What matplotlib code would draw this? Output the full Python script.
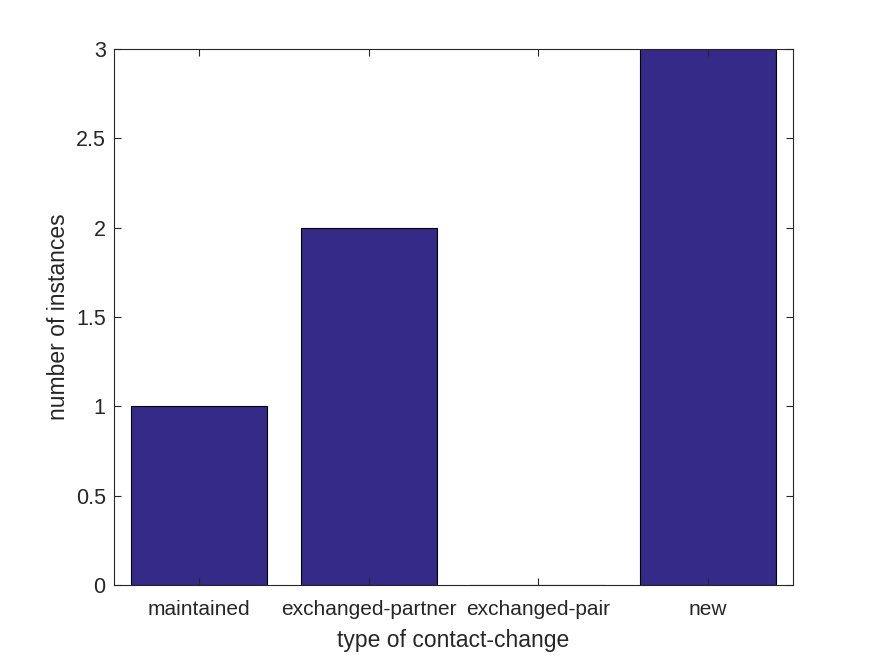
import matplotlib
matplotlib.use("Agg")
import matplotlib.pyplot as plt

categories = ["maintained", "exchanged-partner", "exchanged-pair", "new"]
values = [1, 2, 0, 3]
yticks = [0, 0.5, 1, 1.5, 2, 2.5, 3]
yticklabels = ["0", "0.5", "1", "1.5", "2", "2.5", "3"]

plt.rcParams['font.family'] = ['Liberation Sans', 'DejaVu Sans']
txt = '#262626'

fig = plt.figure(figsize=(8.75, 6.56), dpi=100)
ax = fig.add_axes([114/875, 1-585/656, (793-114)/875, (585-49)/656])
x = list(range(1, len(categories)+1))
ax.bar(x, values, width=0.8, color='#352A87', edgecolor='black', linewidth=0.8)
ax.set_xlim(0.5, 4.5)
ax.set_ylim(0, 3)
ax.set_xticks(x)
ax.set_xticklabels(categories, fontsize=15, color=txt)
ax.set_yticks(yticks)
ax.set_yticklabels(yticklabels, fontsize=15.5, color=txt)
ax.tick_params(direction='in', length=5, width=0.8, colors=txt, top=True, right=True)
ax.tick_params(axis='y', pad=6)
ax.tick_params(axis='x', pad=11)
for s in ax.spines.values():
    s.set_color(txt)
    s.set_linewidth(0.8)
ax.set_xlabel("type of contact-change", fontsize=16.5, color=txt, labelpad=7)
ax.set_ylabel("number of instances", fontsize=16.5, color=txt, labelpad=4)
fig.savefig("out.png", dpi=100)
